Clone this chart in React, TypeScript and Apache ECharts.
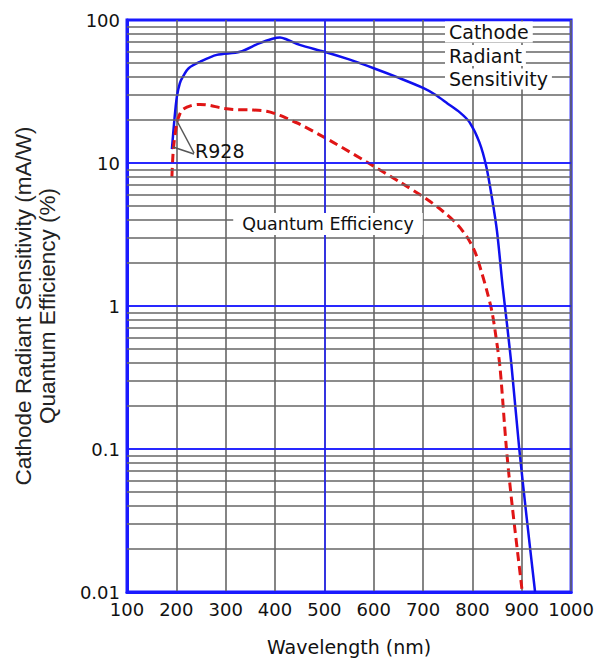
import React, { useEffect, useRef } from "react";
import * as echarts from "echarts";

// Cathode radiant sensitivity (mA/W)
const cathodeWl = [191, 196, 201, 207, 213, 225, 248, 282, 329, 369, 395, 410, 424, 450, 500, 550, 600, 650, 700, 725, 750, 775, 794, 814, 828, 840, 850, 861, 871, 879, 895, 910, 927];
const cathodeVal = [12.5, 20, 29, 36, 40, 46, 51, 57, 60, 69, 74, 75.5, 73, 67, 60, 53, 46, 39.5, 33.5, 30, 26, 22.5, 19.3, 14, 9.5, 5.6, 3.3, 1.4, 0.7, 0.39, 0.1, 0.033, 0.01];

// Quantum efficiency (%)
const qeWl = [191, 194, 201, 207, 213, 230, 248, 268, 290, 315, 350, 383, 410, 436, 450, 517, 585, 652, 707, 740, 770, 790, 805, 818, 830, 840, 848, 856, 869, 880, 899, 901];
const qeVal = [8.0, 12.5, 19, 22, 23.7, 25.2, 25.7, 25.3, 24.3, 23.7, 23.5, 23, 21.5, 19.6, 18.7, 14, 10.2, 7.4, 5.6, 4.6, 3.7, 3.0, 2.4, 1.75, 1.25, 0.9, 0.6, 0.37, 0.1, 0.042, 0.0115, 0.01];

const xTicks = [100, 200, 300, 400, 500, 600, 700, 800, 900, 1000];
const yTickLabels = ["0.01", "0.1", "1", "10", "100"];
const decades = [0.01, 0.1, 1, 10];
const minorMultipliers = [2, 3, 4, 5, 6, 7, 8, 9];
const blueVerticals = [500];
const blueHorizontals = [0.1, 1, 10];

const annCathode = ["Cathode", "Radiant", "Sensitivity"];
const annQE = "Quantum Efficiency";
const annTube = "R928";
const yTitle1 = "Cathode Radiant Sensitivity (mA/W)";
const yTitle2 = "Quantum Efficiency (%)";
const xTitle = "Wavelength (nm)";

export default function App() {
  const ref = useRef<HTMLDivElement>(null);
  useEffect(() => {
    if (!ref.current) return;
    const chart = echarts.init(ref.current, null, { renderer: "svg" });
    const minorLines: any[] = [];
    decades.forEach((d) => minorMultipliers.forEach((m) => minorLines.push({ yAxis: d * m })));
    const blueLines: any[] = [
      ...blueVerticals.map((v) => ({ xAxis: v })),
      ...blueHorizontals.map((v) => ({ yAxis: v })),
    ];
    const font = "DejaVu Sans, Verdana, sans-serif";
    chart.setOption({
      animation: false,
      backgroundColor: "#ffffff",
      grid: {
        left: 127,
        right: 25,
        top: 20,
        bottom: 65,
        show: true,
        borderColor: "#1a1aff",
        borderWidth: 3,
        backgroundColor: "#ffffff",
      },
      xAxis: {
        type: "value",
        min: 100,
        max: 1000,
        interval: 100,
        axisLine: { show: true, lineStyle: { color: "#1a1aff", width: 3 } },
        axisTick: { show: false },
        axisLabel: {
          fontSize: 18,
          color: "#111",
          fontFamily: font,
          margin: 8,
          formatter: (v: number) => String(xTicks.find((t) => t === Math.round(v)) ?? v),
        },
        splitLine: { show: true, lineStyle: { color: "#666", width: 1.6 } },
        name: xTitle,
        nameLocation: "middle",
        nameGap: 45,
        nameTextStyle: { fontSize: 19, color: "#111", fontFamily: font },
      },
      yAxis: {
        type: "log",
        logBase: 10,
        min: 0.01,
        max: 100,
        axisLine: { show: true, lineStyle: { color: "#1a1aff", width: 3 } },
        axisTick: { show: false },
        axisLabel: {
          fontSize: 18,
          color: "#111",
          fontFamily: font,
          margin: 7,
          formatter: (v: number) => yTickLabels[Math.round(Math.log10(v)) + 2],
        },
        splitLine: { show: true, lineStyle: { color: "#1a1aff", width: 1.5 } },
      },
      series: [
        {
          type: "line",
          data: [],
          z: 1,
          silent: true,
          markLine: {
            silent: true,
            symbol: ["none", "none"],
            label: { show: false },
            lineStyle: { color: "#666", width: 1.6, type: "solid" },
            emphasis: { disabled: true },
            data: minorLines,
          },
        },
        {
          type: "line",
          data: [],
          z: 1.5,
          silent: true,
          markLine: {
            silent: true,
            symbol: ["none", "none"],
            label: { show: false },
            lineStyle: { color: "#1a1aff", width: 1.5, type: "solid" },
            emphasis: { disabled: true },
            data: blueLines,
          },
        },
        {
          name: "Cathode Radiant Sensitivity",
          type: "line",
          z: 3,
          smooth: 0.3,
          showSymbol: false,
          data: cathodeWl.map((w, i) => [w, cathodeVal[i]]),
          lineStyle: { color: "#1010ee", width: 2.5 },
        },
        {
          name: "Quantum Efficiency",
          type: "line",
          z: 4,
          smooth: 0.3,
          showSymbol: false,
          data: qeWl.map((w, i) => [w, qeVal[i]]),
          lineStyle: { color: "#e01515", width: 3, type: [9, 5] },
        },
      ],
      graphic: [
        ...annCathode.map((t, i) => ({
          type: "text",
          z: 10,
          x: 445,
          y: 32 + i * 23.5,
          style: {
            text: t,
            fontSize: 19,
            fontFamily: font,
            fill: "#111",
            align: "left",
            verticalAlign: "middle",
            backgroundColor: "#ffffff",
            padding: [1, 4, 1, 4],
          },
        })),
        {
          type: "text",
          z: 10,
          x: 328,
          y: 224,
          style: {
            text: annQE,
            fontSize: 17.5,
            fontFamily: font,
            fill: "#111",
            align: "center",
            verticalAlign: "middle",
            backgroundColor: "#ffffff",
            padding: [2, 9, 2, 9],
          },
        },
        {
          type: "line",
          z: 10,
          shape: { x1: 194, y1: 153, x2: 177, y2: 121 },
          style: { stroke: "#555", lineWidth: 1.5 },
        },
        {
          type: "line",
          z: 10,
          shape: { x1: 194, y1: 154, x2: 173, y2: 147 },
          style: { stroke: "#555", lineWidth: 1.5 },
        },
        {
          type: "text",
          z: 10,
          x: 195,
          y: 151,
          style: {
            text: annTube,
            fontSize: 19,
            fontFamily: font,
            fill: "#111",
            align: "left",
            verticalAlign: "middle",
          },
        },
        {
          type: "text",
          z: 10,
          x: 23,
          y: 306,
          rotation: Math.PI / 2,
          style: {
            text: yTitle1,
            fontSize: 22.5,
            fontFamily: "Liberation Sans, Arial, sans-serif",
            fill: "#222",
            align: "center",
            verticalAlign: "middle",
          },
        },
        {
          type: "text",
          z: 10,
          x: 47,
          y: 306,
          rotation: Math.PI / 2,
          style: {
            text: yTitle2,
            fontSize: 22.5,
            fontFamily: "Liberation Sans, Arial, sans-serif",
            fill: "#222",
            align: "center",
            verticalAlign: "middle",
          },
        },
      ],
    });
    return () => chart.dispose();
  }, []);
  return (
    <div
      ref={ref}
      style={{ position: "absolute", left: 0, top: 0, width: 597, height: 661 }}
    />
  );
}
